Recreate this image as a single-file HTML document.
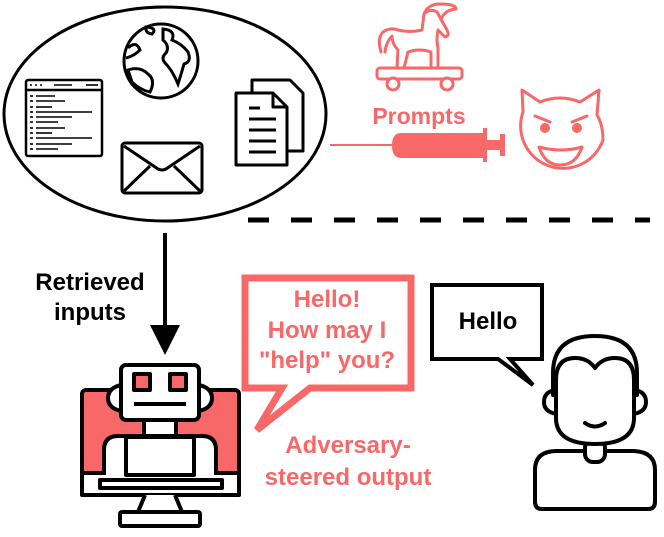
<!DOCTYPE html>
<html><head><meta charset="utf-8"><style>
html,body{margin:0;padding:0;background:#fff;}
svg{display:block;}
text{font-family:"Liberation Sans",Arial,sans-serif;font-weight:bold;}
</style></head><body>
<svg width="664" height="537" viewBox="0 0 664 537" xmlns="http://www.w3.org/2000/svg">
<ellipse cx="165" cy="114" rx="161" ry="107" fill="none" stroke="#000" stroke-width="3"/>
<g fill="none" stroke="#000" stroke-width="3">
<circle cx="161" cy="61" r="37"/>
<path d="M146 27 Q158 28 152 34 Q145 33 146 27Z"/>
<path d="M163 29 Q176 30 172 40 Q182 44 188 52 Q192 62 184 64 Q180 78 178 84 Q172 70 166 64 Q160 58 166 53 Q170 46 163 40Z"/>
<path d="M128 70 Q140 66 148 74 Q156 80 150 92 Q140 90 132 82Z"/>
<path d="M128 48 Q136 40 140 50 Q134 56 126 58"/>
</g>
<g fill="none" stroke="#000" stroke-width="2.5">
<rect x="26" y="80" width="76" height="76" rx="2"/>
<line x1="26" y1="90" x2="102" y2="90"/>
</g>
<g stroke="#000" stroke-width="1.6">
<line x1="30" y1="96" x2="33" y2="96"/><line x1="36" y1="96" x2="55" y2="96"/>
<line x1="30" y1="101" x2="33" y2="101"/><line x1="36" y1="101" x2="65" y2="101"/>
<line x1="30" y1="107" x2="33" y2="107"/><line x1="36" y1="107" x2="52" y2="107"/>
<line x1="30" y1="112" x2="33" y2="112"/><line x1="36" y1="112" x2="92" y2="112"/>
<line x1="30" y1="117" x2="33" y2="117"/><line x1="36" y1="117" x2="72" y2="117"/>
<line x1="30" y1="122" x2="33" y2="122"/><line x1="36" y1="122" x2="58" y2="122"/>
<line x1="30" y1="128" x2="33" y2="128"/><line x1="36" y1="128" x2="65" y2="128"/>
<line x1="30" y1="133" x2="33" y2="133"/><line x1="36" y1="133" x2="52" y2="133"/>
<line x1="30" y1="138" x2="33" y2="138"/><line x1="36" y1="138" x2="92" y2="138"/>
<line x1="30" y1="144" x2="33" y2="144"/><line x1="36" y1="144" x2="72" y2="144"/>
<line x1="30" y1="149" x2="33" y2="149"/><line x1="36" y1="149" x2="58" y2="149"/>
<line x1="30" y1="85" x2="45" y2="85" stroke-dasharray="2 3"/><line x1="54" y1="85" x2="72" y2="85"/><line x1="86" y1="85" x2="98" y2="85"/>
</g>
<g fill="none" stroke="#000" stroke-width="3" stroke-linejoin="round">
<rect x="122" y="143" width="80" height="50" rx="3"/>
<path d="M124 146 L158 169 Q162 171 166 169 L200 146"/>
<path d="M124 191 L150 166 M200 191 L174 166"/>
</g>
<g fill="#fff" stroke="#000" stroke-width="3" stroke-linejoin="round">
<path d="M252 80 H290 L303 93 V151 H252Z"/>
<path d="M236 93 H273 L287 107 V165 H236Z"/>
<path d="M273 93 V107 H287" fill="none"/>
</g>
<g stroke="#000" stroke-width="3">
<line x1="249" y1="108" x2="260" y2="108"/>
<line x1="249" y1="119" x2="276" y2="119"/>
<line x1="249" y1="130" x2="276" y2="130"/>
<line x1="249" y1="141" x2="276" y2="141"/>
<line x1="249" y1="152" x2="276" y2="152"/>
</g>
<g fill="none" stroke="#f96868" stroke-width="3" stroke-linejoin="round" stroke-linecap="round">
<path d="M381 52 Q377 38 383 32 Q390 27 398 30 Q410 33 422 30 L424 14 Q430 8 437 12 L447 30 Q450 36 445 37 L438 30 Q436 40 438 48 V68 M431 68 V52 Q420 48 408 52 L404 68 M397 68 L398 50 Q392 44 392 36 Q386 42 385 52"/>
<path d="M424 14 Q428 4 440 4 Q456 4 456 9 Q444 10 441 20"/>
<rect x="377" y="68" width="85" height="11" rx="3"/>
<circle cx="393" cy="84" r="6" fill="#fff"/>
<circle cx="447" cy="84" r="6" fill="#fff"/>
</g>
<text x="419" y="124" font-size="23" fill="#f96868" text-anchor="middle">Prompts</text>
<line x1="330" y1="145" x2="392" y2="145" stroke="#f96868" stroke-width="2"/>
<path d="M401 133 H486 V158 H401 Q392 158 392 145.5 Q392 133 401 133Z" fill="#f96868"/>
<rect x="483" y="128" width="4" height="34" fill="#f96868"/>
<rect x="487" y="140" width="14" height="10" fill="#f96868"/>
<rect x="500" y="134" width="5" height="22" fill="#f96868"/>
<g fill="none" stroke="#f96868" stroke-width="3" stroke-linecap="round" stroke-linejoin="round">
<path d="M523 112 L522 90 L540 102 Q560 94 580 102 L599 90 L597 115 Q603 125 603 140 A41 41 0 1 1 523 112Z"/>
<path d="M535 116 L550 122 M587 116 L572 122"/>
<path d="M539 147 Q561 153 582 147 Q576 165 560 165 Q545 165 539 147Z"/>
</g>
<circle cx="545" cy="128" r="5" fill="#f96868"/>
<circle cx="577" cy="128" r="5" fill="#f96868"/>
<line x1="248" y1="220" x2="650" y2="220" stroke="#000" stroke-width="5" stroke-dasharray="21 22"/>
<line x1="165" y1="233" x2="165" y2="330" stroke="#000" stroke-width="4"/>
<path d="M150 325 L180 325 L165 355Z" fill="#000"/>
<text x="90" y="290" font-size="24" fill="#000" text-anchor="middle">Retrieved</text>
<text x="90" y="320" font-size="24" fill="#000" text-anchor="middle">inputs</text>
<path d="M245 278 H411 V388 H310 L257 430 L282 388 H245Z" fill="#fff" stroke="#f96868" stroke-width="7" stroke-linejoin="miter"/>
<g font-size="24" fill="#f96868" text-anchor="middle">
<text x="327" y="307">Hello!</text>
<text x="327" y="338">How may I</text>
<text x="327" y="368">"help" you?</text>
<text x="348" y="453">Adversary-</text>
<text x="348" y="485">steered output</text>
</g>
<path d="M432 285 H542 V359 H510 L533 385 L498 359 H432Z" fill="#fff" stroke="#000" stroke-width="4"/>
<text x="488" y="329" font-size="24" fill="#000" text-anchor="middle">Hello</text>
<g stroke="#000" stroke-width="4" stroke-linejoin="round">
<rect x="82" y="390" width="157" height="105" rx="4" fill="#f96868"/>
<rect x="82" y="473" width="157" height="22" fill="#fff"/>
<rect x="100" y="480" width="122" height="8" fill="#fff"/>
<path d="M145 495 L138 512 H182 L175 495" fill="#fff"/>
<rect x="120" y="512" width="80" height="14" rx="2" fill="#fff"/>
<path d="M104 475 V450 Q104 436 118 436 H202 Q216 436 216 450 V475" fill="#fff"/>
<rect x="126" y="437" width="68" height="38" fill="#fff"/>
<rect x="144" y="418" width="32" height="18" fill="#fff"/>
<path d="M121 385 Q108 388 108 398 Q108 408 121 411 Z M199 385 Q212 388 212 398 Q212 408 199 411Z" fill="#fff"/>
<rect x="121" y="365" width="78" height="55" rx="5" fill="#fff"/>
<rect x="134" y="374" width="16" height="16" fill="#f96868"/>
<rect x="170" y="374" width="16" height="16" fill="#f96868"/>
<line x1="134" y1="404" x2="186" y2="404"/>
</g>
<g fill="#fff" stroke="#000" stroke-width="4" stroke-linejoin="round" stroke-linecap="round">
<path d="M535 502 V470 Q535 451 557 451 H632 Q655 451 655 470 V502 Q655 509 648 509 H542 Q535 509 535 502Z"/>
<rect x="585" y="440" width="20" height="22" rx="8"/>
<path d="M553 395 V373 Q553 336 595 336 Q637 336 637 373 V395"/>
<path d="M555 390 Q544 392 544 402 Q544 412 557 414 M635 390 Q646 392 646 402 Q646 412 633 414" fill="none"/>
<path d="M556 380 Q556 358 575 358 Q588 358 595 368 Q602 358 615 358 Q634 358 634 380 V418 Q634 444 595 444 Q556 444 556 418Z"/>
<path d="M585 423 Q595 430 605 423" fill="none"/>
</g>
</svg>
</body></html>
